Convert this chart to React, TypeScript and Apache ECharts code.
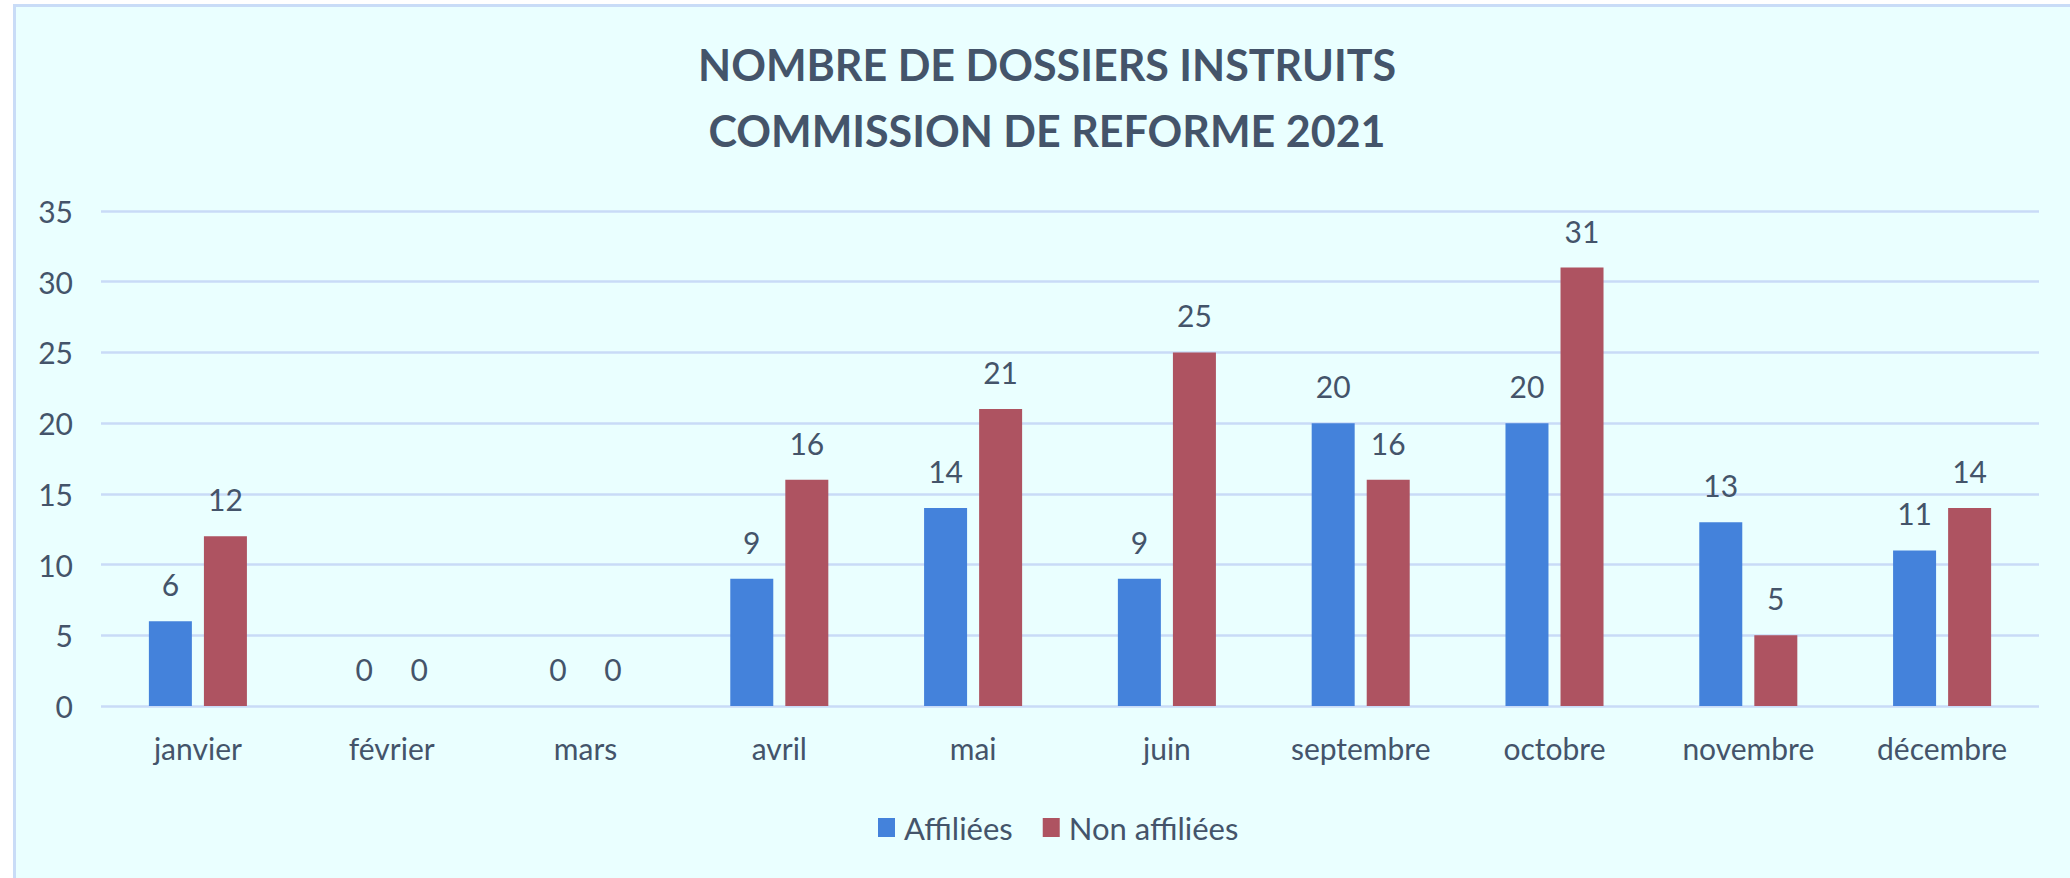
import React, { useEffect, useRef } from "react";
import * as echarts from "echarts";

const titleLines = ["NOMBRE DE DOSSIERS INSTRUITS", "COMMISSION DE REFORME 2021"];
const months = ["janvier", "février", "mars", "avril", "mai", "juin", "septembre", "octobre", "novembre", "décembre"];
const affiliees = [6, 0, 0, 9, 14, 9, 20, 20, 13, 11];
const nonAffiliees = [12, 0, 0, 16, 21, 25, 16, 31, 5, 14];
const seriesNames = ["Affiliées", "Non affiliées"];
const yMin = 0;
const yMax = 35;
const yStep = 5;

const TEXT = "#44546A";
const FONT = "Lato";

export default function App() {
  const ref = useRef<HTMLDivElement>(null);
  useEffect(() => {
    if (!ref.current) return;
    const chart = echarts.init(ref.current, undefined, { renderer: "svg" });
    const label = {
      show: true,
      position: "top",
      distance: 22,
      color: TEXT,
      fontFamily: FONT,
      fontSize: 30,
    };
    chart.setOption({
      animation: false,
      backgroundColor: "#ffffff",
      graphic: [
        {
          type: "rect",
          z: -10,
          silent: true,
          shape: { x: 14.5, y: 5.5, width: 2100, height: 900 },
          style: { fill: "#EAFFFF", stroke: "#C9DCF7", lineWidth: 3 },
        },
      ],
      title: {
        text: titleLines.join("\n"),
        left: 1047,
        top: 31,
        padding: 0,
        textAlign: "center",
        textStyle: {
          color: TEXT,
          fontFamily: FONT,
          fontWeight: "bold",
          fontSize: 43,
          lineHeight: 66,
        },
      },
      legend: {
        data: seriesNames,
        left: 878,
        top: 812,
        padding: 0,
        itemWidth: 17,
        itemHeight: 19,
        itemGap: 30,
        icon: "rect",
        textStyle: { color: TEXT, fontFamily: FONT, fontSize: 31, padding: [0, 0, 0, 4] },
      },
      grid: { left: 101, right: 31, top: 211, bottom: 172, containLabel: false },
      xAxis: {
        type: "category",
        data: months,
        axisLine: { show: false },
        axisTick: { show: false },
        axisLabel: { color: TEXT, fontFamily: FONT, fontSize: 30, margin: 27 },
      },
      yAxis: {
        type: "value",
        min: yMin,
        max: yMax,
        interval: yStep,
        axisLine: { show: false },
        axisTick: { show: false },
        axisLabel: { color: TEXT, fontFamily: FONT, fontSize: 30, margin: 28 },
        splitLine: { lineStyle: { color: "#C9DBF7", width: 2.5 } },
      },
      series: [
        {
          name: seriesNames[0],
          type: "bar",
          data: affiliees,
          barWidth: 43,
          barGap: "28%",
          itemStyle: { color: "#4482DB" },
          label,
        },
        {
          name: seriesNames[1],
          type: "bar",
          data: nonAffiliees,
          barWidth: 43,
          barGap: "28%",
          itemStyle: { color: "#AE5361" },
          label,
        },
      ],
    });
    return () => chart.dispose();
  }, []);
  return (
    <div
      ref={ref}
      style={{ position: "fixed", left: 0, top: 0, width: 2070, height: 878 }}
    />
  );
}
